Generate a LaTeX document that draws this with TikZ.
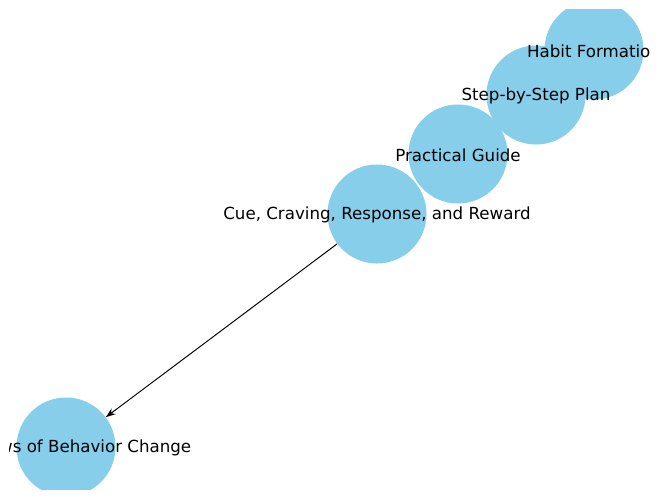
\documentclass[tikz,border=0pt]{standalone}
\usepackage{fontspec}
\setmainfont{DejaVu Sans}
\usetikzlibrary{arrows.meta}
\definecolor{skyblue}{RGB}{135,206,235}
\begin{document}
\begin{tikzpicture}
			[x=0.72pt,y=-0.72pt,
			bubble/.style={circle,fill=skyblue,minimum size=71.3pt,inner sep=0pt},
			tag/.style={font=\fontsize{12}{14}\selectfont,inner sep=0pt,yshift=-1pt},
			link/.style={-{Stealth[length=7pt,width=5pt]},line width=0.7pt}]

			\useasboundingbox (0,0) rectangle (660,499);
			\clip (9,9) rectangle (650,489);

			\node[bubble] (habit) at (594,50) {};
			\node[bubble] (plan) at (536,95) {};
			\node[bubble] (guide) at (458,154) {};
			\node[bubble] (cue) at (377,214) {};
			\node[bubble] (laws) at (66,447) {};

			\draw[link] (cue) -- (laws);

			\node[tag] at (habit.center) {Habit Formation};
			\node[tag] at (plan.center) {Step-by-Step Plan};
			\node[tag] at (guide.center) {Practical Guide};
			\node[tag] at (cue.center) {Cue, Craving, Response, and Reward};
			\node[tag,xshift=14pt] at (laws.center) {Laws of Behavior Change};
		\end{tikzpicture}
\end{document}
